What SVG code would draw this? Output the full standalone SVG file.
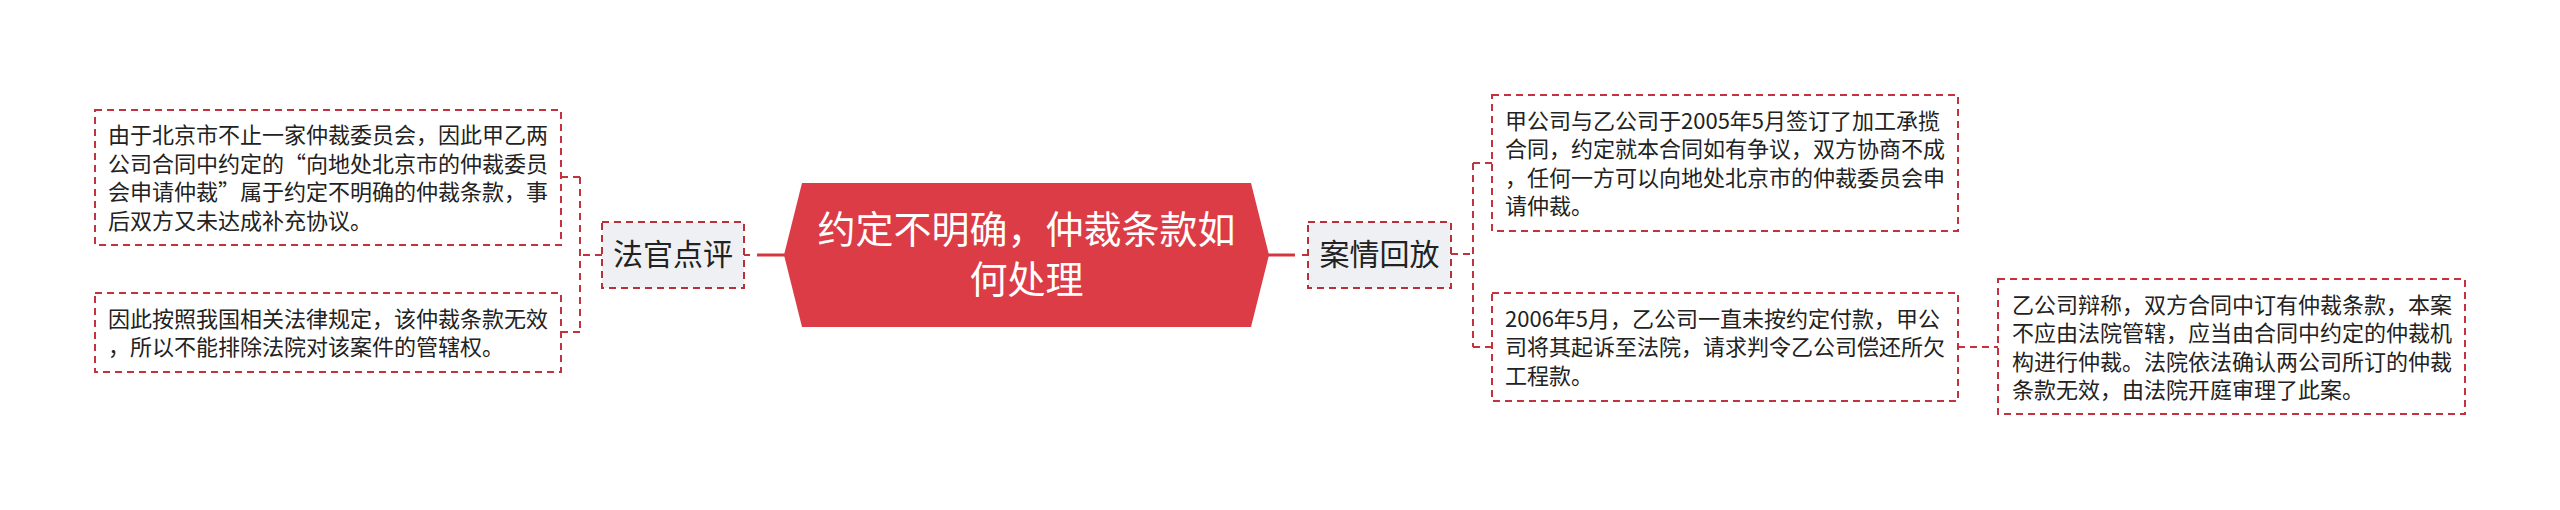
<svg xmlns="http://www.w3.org/2000/svg" width="2560" height="510" viewBox="0 0 2560 510">
<style>
.leaf{fill:#ffffff;stroke:#c4323d;stroke-width:2;stroke-dasharray:7 5}
.sub{fill:#eef0f3;stroke:#b93039;stroke-width:2;stroke-dasharray:7 5}
.dash{fill:none;stroke:#c4323d;stroke-width:2;stroke-dasharray:7 5}
.solid{fill:none;stroke:#d2373f;stroke-width:3}
.t{font-family:"Noto Sans CJK SC","Noto Sans",sans-serif;font-size:22px;fill:#222222}
.ts{font-family:"Noto Sans CJK SC","Noto Sans",sans-serif;font-size:30px;fill:#222222;text-anchor:middle}
.tc{font-family:"Noto Sans CJK SC","Noto Sans",sans-serif;font-size:38px;fill:#ffffff;text-anchor:middle}
</style>
<rect width="2560" height="510" fill="#ffffff"/>
<g id="connectors">
<path class="solid" d="M757 255H785"/>
<path class="dash" d="M744 255H750"/>
<path class="solid" d="M1267 255H1295"/>
<path class="dash" d="M1302 255H1308"/>
<path class="dash" d="M602 255H580"/>
<path class="dash" d="M580 177V332"/>
<path class="dash" d="M561 177H580"/>
<path class="dash" d="M561 332H580"/>
<path class="dash" d="M1451 254H1473"/>
<path class="dash" d="M1473 163V347"/>
<path class="dash" d="M1473 163H1492"/>
<path class="dash" d="M1473 347H1492"/>
<path class="dash" d="M1958 347H1998"/>
</g>
<g id="central">
<polygon points="784,255 802,183 1251,183 1269,255 1251,327 802,327" fill="#dc3c45"/>
<text class="tc" x="1026.5" y="243">约定不明确，仲裁条款如</text>
<text class="tc" x="1026.5" y="293">何处理</text>
</g>
<g id="node-faguan">
<rect class="sub" x="602" y="222" width="142" height="66"/>
<text class="ts" x="673" y="265">法官点评</text>
</g>
<g id="node-anqing">
<rect class="sub" x="1308" y="222" width="143" height="66"/>
<text class="ts" x="1379.5" y="265">案情回放</text>
</g>
<g id="leaf-l1">
<rect class="leaf" x="95" y="110" width="466" height="135"/>
<text class="t" x="108" y="143">由于北京市不止一家仲裁委员会，因此甲乙两</text>
<text class="t" x="108" y="171.5">公司合同中约定的“向地处北京市的仲裁委员</text>
<text class="t" x="108" y="200">会申请仲裁”属于约定不明确的仲裁条款，事</text>
<text class="t" x="108" y="228.5">后双方又未达成补充协议。</text>
</g>
<g id="leaf-l2">
<rect class="leaf" x="95" y="293" width="466" height="79"/>
<text class="t" x="108" y="326.5">因此按照我国相关法律规定，该仲裁条款无效</text>
<text class="t" x="108" y="355">，所以不能排除法院对该案件的管辖权。</text>
</g>
<g id="leaf-r1">
<rect class="leaf" x="1492" y="95" width="466" height="136"/>
<text class="t" x="1505" y="128.5">甲公司与乙公司于2005年5月签订了加工承揽</text>
<text class="t" x="1505" y="157">合同，约定就本合同如有争议，双方协商不成</text>
<text class="t" x="1505" y="185.5">，任何一方可以向地处北京市的仲裁委员会申</text>
<text class="t" x="1505" y="214">请仲裁。</text>
</g>
<g id="leaf-r2">
<rect class="leaf" x="1492" y="293" width="466" height="108"/>
<text class="t" x="1505" y="326.5">2006年5月，乙公司一直未按约定付款，甲公</text>
<text class="t" x="1505" y="355">司将其起诉至法院，请求判令乙公司偿还所欠</text>
<text class="t" x="1505" y="383.5">工程款。</text>
</g>
<g id="leaf-r3">
<rect class="leaf" x="1998" y="279" width="467" height="135"/>
<text class="t" x="2012" y="312.5">乙公司辩称，双方合同中订有仲裁条款，本案</text>
<text class="t" x="2012" y="341">不应由法院管辖，应当由合同中约定的仲裁机</text>
<text class="t" x="2012" y="369.5">构进行仲裁。法院依法确认两公司所订的仲裁</text>
<text class="t" x="2012" y="398">条款无效，由法院开庭审理了此案。</text>
</g>
</svg>
